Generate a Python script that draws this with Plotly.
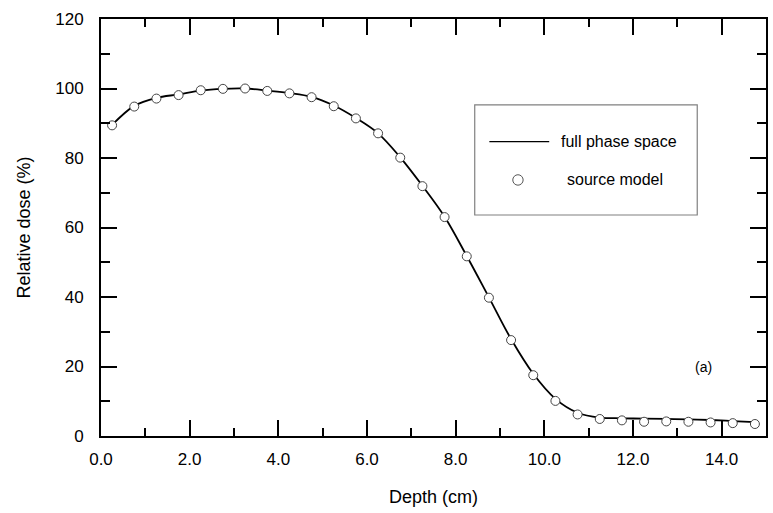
import plotly.graph_objects as go

# Depth (cm) sample positions
depth = [0.25, 0.75, 1.25, 1.75, 2.25, 2.75, 3.25, 3.75, 4.25, 4.75,
         5.25, 5.75, 6.25, 6.75, 7.25, 7.75, 8.25, 8.75, 9.25, 9.75,
         10.25, 10.75, 11.25, 11.75, 12.25, 12.75, 13.25, 13.75, 14.25, 14.75]

# full phase space (line)
dose_full = [89.5, 95.0, 97.3, 98.3, 99.4, 99.9, 100.0, 99.4, 98.7, 97.6,
             95.1, 91.5, 87.1, 80.2, 72.0, 63.1, 51.8, 39.9, 27.9, 17.9,
             10.7, 6.7, 5.3, 5.1, 5.0, 4.9, 4.8, 4.6, 4.3, 4.0]

# source model (circles)
dose_model = [89.4, 94.8, 97.1, 98.1, 99.5, 99.9, 100.0, 99.3, 98.6, 97.5,
              94.9, 91.4, 87.1, 80.1, 71.9, 63.0, 51.7, 39.8, 27.6, 17.5,
              10.1, 6.2, 4.9, 4.5, 4.1, 4.2, 4.1, 3.9, 3.7, 3.45]

x_range = [0, 15]
y_range = [0, 120]
x_major_ticks = [0, 2, 4, 6, 8, 10, 12, 14]
x_all_ticks = list(range(0, 16))
y_major_ticks = [0, 20, 40, 60, 80, 100, 120]
y_all_ticks = [0, 10, 20, 30, 40, 50, 60, 70, 80, 90, 100, 110, 120]

x_ticktext = [f"{v:.1f}" if v in x_major_ticks else "" for v in x_all_ticks]
y_ticktext = [str(v) if v in y_major_ticks else "" for v in y_all_ticks]

FONT = "Liberation Sans, Arial, sans-serif"

fig = go.Figure()
fig.add_trace(go.Scatter(
    x=depth, y=dose_full, mode="lines", name="full phase space",
    line=dict(color="black", width=1.8, shape="spline"), showlegend=False))
fig.add_trace(go.Scatter(
    x=depth, y=dose_model, mode="markers", name="source model",
    marker=dict(symbol="circle", size=9, color="white",
                line=dict(color="#444444", width=1)), showlegend=False,
    xaxis="x2", yaxis="y2"))

base = dict(showline=True, linecolor="black", linewidth=2, mirror="allticks",
            ticks="inside", showgrid=False, zeroline=False, tickmode="array")

fig.update_layout(
    xaxis=dict(range=x_range, tickvals=x_all_ticks, ticktext=x_ticktext,
               ticklen=8, tickwidth=2, tickcolor="black",
               ticklabelstandoff=7,
               tickfont=dict(family=FONT, size=17, color="black"),
               title=dict(text="Depth (cm)", font=dict(family=FONT, size=18, color="black"), standoff=22),
               **base),
    yaxis=dict(range=y_range, tickvals=y_all_ticks, ticktext=y_ticktext,
               ticklen=9, tickwidth=2, tickcolor="black",
               ticklabelstandoff=12,
               tickfont=dict(family=FONT, size=17, color="black"),
               title=dict(text="Relative dose (%)", font=dict(family=FONT, size=18, color="black"), standoff=20),
               **base),
    xaxis2=dict(range=x_range, tickvals=x_major_ticks, ticklen=16, tickwidth=2, tickcolor="black",
                showticklabels=False, overlaying="x", anchor="y2", side="bottom", **base),
    yaxis2=dict(range=y_range, tickvals=y_major_ticks, ticklen=16, tickwidth=2, tickcolor="black",
                showticklabels=False, overlaying="y", anchor="x2", side="left", **base),
)

# Legend box drawn manually (paper coords)
fig.add_shape(type="rect", xref="paper", yref="paper", x0=0.562, x1=0.8966, y0=0.530, y1=0.794,
              line=dict(color="#808080", width=1.2), fillcolor="white", layer="below")
fig.add_shape(type="line", xref="paper", yref="paper", x0=0.584, x1=0.674, y0=0.706, y1=0.706,
              line=dict(color="black", width=1.2))
fig.add_shape(type="circle", xref="paper", yref="paper", x0=0.627 - 0.0078, x1=0.627 + 0.0078,
              y0=0.614 - 0.0125, y1=0.614 + 0.0125, line=dict(color="#555555", width=1), fillcolor="white")
fig.add_annotation(xref="paper", yref="paper", x=0.688, y=0.706, text="full phase space",
                   showarrow=False, xanchor="left", yanchor="middle",
                   font=dict(family=FONT, size=16, color="black"))
fig.add_annotation(xref="paper", yref="paper", x=0.697, y=0.614, text="source model",
                   showarrow=False, xanchor="left", yanchor="middle",
                   font=dict(family=FONT, size=16, color="black"))
fig.add_annotation(x=13.6, y=20, text="(a)", showarrow=False, xanchor="center", yanchor="middle",
                   font=dict(family=FONT, size=14, color="black"))

fig.update_layout(
    width=773, height=513,
    margin=dict(l=101, r=5, t=19, b=77),
    paper_bgcolor="white", plot_bgcolor="white",
    showlegend=False,
)

fig.write_html("out.html")
